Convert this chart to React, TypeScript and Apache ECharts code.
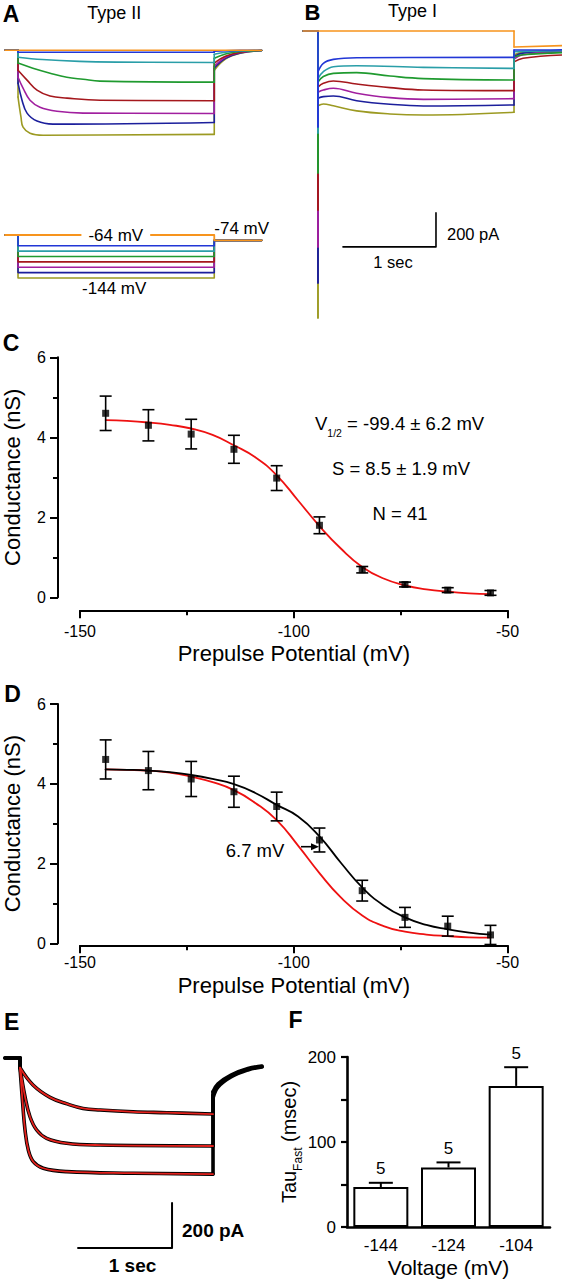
import React, { useEffect, useRef } from "react";
import * as echarts from "echarts";

const FONT = '"Liberation Sans", Arial, Helvetica, sans-serif';

// ---------------- Panel A (Type II): current traces, t (ms), I (pA) ----------------
const A_OLIVE = [[0, 0], [140, 0], [140, -276], [172, -394], [194, -453], [269, -488], [409, -500], [2250, -495], [2250, -118], [2370, -52], [2530, -18], [2760, -2]];
const A_NAVY = [[0, 0], [140, 0], [140, -194], [183, -294], [237, -370], [344, -417], [516, -435], [2250, -425], [2250, -106], [2370, -48], [2530, -16], [2760, -2]];
const A_MAGENTA = [[0, 0], [140, 0], [140, -159], [194, -223], [269, -294], [376, -335], [559, -359], [839, -370], [2250, -372], [2250, -94], [2370, -42], [2530, -14], [2760, -2]];
const A_RED = [[0, 0], [140, 0], [140, -118], [237, -176], [344, -235], [484, -270], [667, -282], [1022, -294], [2250, -297], [2250, -76], [2370, -35], [2530, -12], [2760, -2]];
const A_GREEN = [[0, 0], [140, 0], [140, -76], [300, -106], [485, -135], [665, -159], [840, -171], [1020, -182], [2250, -188], [2250, -47], [2370, -22], [2530, -8], [2760, -2]];
const A_CYAN = [[0, 0], [140, 0], [140, -41], [400, -55], [800, -66], [1200, -70], [2250, -72], [2250, -24], [2370, -12], [2530, -5], [2760, -1]];
const A_BLUE = [[0, 0], [140, 0], [140, -12], [2250, -12], [2250, -6], [2370, -3], [2530, -1], [2760, 0]];
const A_ORANGE = [[0, 0], [2760, 0]];

// Voltage protocol (mV)
const PROTO_HOLD = -64;
const PROTO_TAIL = -74;
const PROTO_LEVELS = [-144, -134, -124, -114, -104, -94, -84];
const PROTO_TIMES = [0, 140, 2250, 2760];

// ---------------- Panel B (Type I) ----------------
const B_OLIVE = [[0, 0], [161, 0], [161, -1688], [161, -440], [219, -429], [326, -440], [577, -470], [935, -488], [1294, -494], [2269, -478], [2269, -140], [2366, -125], [2785, -118]];
const B_NAVY = [[0, 0], [161, 0], [161, -1482], [161, -395], [219, -386], [326, -382], [577, -410], [935, -431], [1294, -441], [2269, -435], [2269, -150], [2366, -130], [2785, -118]];
const B_MAGENTA = [[0, 0], [161, 0], [161, -1270], [161, -360], [219, -347], [326, -337], [577, -366], [935, -392], [1294, -402], [2269, -398], [2269, -165], [2366, -140], [2785, -123]];
const B_RED = [[0, 0], [161, 0], [161, -1053], [161, -330], [219, -308], [326, -294], [577, -312], [935, -333], [1294, -347], [2269, -351], [2269, -182], [2366, -160], [2785, -141]];
const B_GREEN = [[0, 0], [161, 0], [161, -835], [161, -300], [219, -268], [326, -249], [577, -245], [935, -265], [1294, -280], [2269, -288], [2269, -153], [2366, -140], [2785, -127]];
const B_CYAN = [[0, 0], [161, 0], [161, -600], [161, -280], [219, -239], [326, -210], [577, -204], [1294, -214], [2269, -220], [2269, -122], [2366, -120], [2785, -116]];
const B_BLUE = [[0, 0], [161, 0], [161, -564], [161, -240], [219, -190], [326, -167], [577, -157], [2269, -155], [2269, -112], [2366, -112], [2785, -110]];
const B_ORANGE = [[0, 0], [2269, 0], [2269, -94], [2785, -86]];
const B_SCALEBAR = [[430, -1270], [1430, -1270], [1430, -1070]];

// ---------------- Panels C / D: conductance vs prepulse ----------------
const PREPULSE_MV = [-144, -134, -124, -114, -104, -94, -84, -74, -64, -54];
const C_COND = [4.6, 4.3, 4.08, 3.7, 2.98, 1.8, 0.69, 0.32, 0.18, 0.11];
const C_SEM = [0.43, 0.39, 0.37, 0.35, 0.31, 0.21, 0.08, 0.06, 0.06, 0.06];
const D_COND = [4.61, 4.33, 4.12, 3.8, 3.43, 2.59, 1.32, 0.65, 0.43, 0.21];
const D_SEM = [0.49, 0.48, 0.44, 0.39, 0.36, 0.3, 0.26, 0.25, 0.25, 0.24];
const FIT_MV = [-144, -139, -134, -129, -124, -119, -114, -109, -104, -99, -94, -89, -84, -79, -74, -69, -64, -59, -54];
const C_FIT = [4.43, 4.41, 4.37, 4.31, 4.22, 4.06, 3.8, 3.5, 3.05, 2.42, 1.78, 1.22, 0.76, 0.47, 0.3, 0.2, 0.14, 0.1, 0.08];
const D_FIT_CONTROL = [4.36, 4.35, 4.33, 4.28, 4.18, 4.04, 3.84, 3.52, 3.09, 2.45, 1.76, 1.15, 0.7, 0.43, 0.29, 0.22, 0.18, 0.15, 0.14];
const D_FIT_SHIFTED = [4.36, 4.35, 4.33, 4.29, 4.22, 4.12, 3.99, 3.77, 3.47, 3.18, 2.68, 2.02, 1.4, 0.95, 0.65, 0.46, 0.35, 0.27, 0.22];

// ---------------- Panel E: traces with fits ----------------
const E_PRE = [[0, 0], [160, 0]];
const E_DECAY_1 = [[160, -43], [298, -120], [479, -175], [660, -204], [830, -224], [1011, -231], [1362, -239], [1723, -243], [2213, -249]];
const E_DECAY_2 = [[160, -43], [213, -172], [266, -261], [337, -320], [443, -357], [656, -379], [1011, -387], [2213, -391]];
const E_DECAY_3 = [[160, -46], [188, -201], [213, -320], [248, -409], [301, -461], [407, -490], [656, -505], [1362, -512], [2213, -516]];
const E_RECOVERY_1 = [[2213, -150], [2266, -115], [2404, -76], [2585, -47], [2734, -36]];
const E_RECOVERY_2 = [[2213, -165], [2266, -122], [2404, -80], [2585, -50], [2734, -38]];
const E_RECOVERY_3 = [[2213, -178], [2266, -129], [2404, -84], [2585, -53], [2734, -40]];
const E_SCALEBAR = [[777, -844], [1777, -844], [1777, -644]];

// ---------------- Panel F: Tau fast ----------------
const F_VOLTAGE = ["-144", "-124", "-104"];
const F_TAU = [47, 70, 166];
const F_SEM = [5, 6, 22];
const F_N = [5, 5, 5];

const COLORS = {
  orange: "#f7941d",
  blue: "#2237d6",
  cyan: "#2a9ea8",
  green: "#1f9a2f",
  red: "#a5181d",
  magenta: "#a11f9f",
  navy: "#1c1f9c",
  olive: "#9c9a22",
};

function lineSeries(data: number[][], color: string, width: number, axis: number, smooth: number | boolean, z = 2) {
  return {
    type: "line",
    xAxisIndex: axis,
    yAxisIndex: axis,
    data,
    smooth,
    symbol: "none",
    showSymbol: false,
    clip: false,
    silent: true,
    z,
    lineStyle: { color, width, cap: "round", join: "round" },
    emphasis: { disabled: true },
  };
}

// split a trace into straight vertical steps and smooth runs
function traceSeries(pts: number[][], color: string, width: number, axis: number, z = 2) {
  const out: any[] = [];
  let run: number[][] = [pts[0]];
  for (let i = 1; i < pts.length; i++) {
    const p = pts[i];
    const q = pts[i - 1];
    if (p[0] === q[0]) {
      if (run.length > 1) out.push(lineSeries(run, color, width, axis, 0.4, z));
      out.push(lineSeries([q, p], color, width, axis, false, z));
      run = [p];
    } else {
      run.push(p);
    }
  }
  if (run.length > 1) out.push(lineSeries(run, color, width, axis, 0.4, z));
  return out;
}

function errRender(params: any, api: any) {
  const x = api.value(0);
  const y = api.value(1);
  const e = api.value(2);
  const t = api.coord([x, y + e]);
  const b = api.coord([x, y - e]);
  const st = { stroke: "#000", lineWidth: 1.6 };
  const cap = 6;
  return {
    type: "group",
    children: [
      { type: "line", shape: { x1: t[0], y1: t[1], x2: b[0], y2: b[1] }, style: st },
      { type: "line", shape: { x1: t[0] - cap, y1: t[1], x2: t[0] + cap, y2: t[1] }, style: st },
      { type: "line", shape: { x1: b[0] - cap, y1: b[1], x2: b[0] + cap, y2: b[1] }, style: st },
    ],
  };
}

function barErrRender(params: any, api: any) {
  const i = api.value(0);
  const v = api.value(1);
  const e = api.value(2);
  const n = api.value(3);
  const p0 = api.coord([i, v]);
  const p1 = api.coord([i, v + e]);
  const st = { stroke: "#000", lineWidth: 2 };
  return {
    type: "group",
    children: [
      { type: "line", shape: { x1: p0[0], y1: p0[1], x2: p1[0], y2: p1[1] }, style: st },
      { type: "line", shape: { x1: p1[0] - 12, y1: p1[1], x2: p1[0] + 12, y2: p1[1] }, style: st },
      {
        type: "text",
        x: p1[0],
        y: p1[1] - 14,
        style: { text: String(n), fontSize: 17, fontFamily: FONT, fill: "#000", align: "center", verticalAlign: "middle" },
      },
    ],
  };
}

const AXIS_LINE = { show: true, onZero: false, lineStyle: { color: "#000", width: 2 } };

function hiddenX(gi: number, max: number) {
  return { gridIndex: gi, type: "value", min: 0, max, show: false, splitLine: { show: false } };
}
function hiddenY(gi: number, min: number, max: number) {
  return { gridIndex: gi, type: "value", min, max, show: false, splitLine: { show: false } };
}

function condX(gi: number, offset: number, margin: number, gap: number) {
  return {
    gridIndex: gi,
    type: "value",
    min: -150,
    max: -50,
    interval: 50,
    offset,
    axisLine: AXIS_LINE,
    axisTick: { show: true, length: 8, lineStyle: { color: "#000", width: 2 } },
    minorTick: { show: true, splitNumber: 2, length: 5, lineStyle: { color: "#000", width: 2 } },
    splitLine: { show: false },
    minorSplitLine: { show: false },
    axisLabel: { fontSize: 16, color: "#000", margin, fontFamily: FONT, showMinLabel: true, showMaxLabel: true },
    name: "Prepulse Potential (mV)",
    nameLocation: "middle",
    nameGap: gap,
    nameTextStyle: { fontSize: 22, color: "#000", fontFamily: FONT },
  };
}
function condY(gi: number) {
  return {
    gridIndex: gi,
    type: "value",
    min: 0,
    max: 6,
    interval: 2,
    offset: 22,
    axisLine: AXIS_LINE,
    axisTick: { show: true, length: 8, lineStyle: { color: "#000", width: 2 } },
    minorTick: { show: true, splitNumber: 2, length: 5, lineStyle: { color: "#000", width: 2 } },
    splitLine: { show: false },
    minorSplitLine: { show: false },
    axisLabel: { fontSize: 16, color: "#000", margin: 12, fontFamily: FONT },
    name: "Conductance (nS)",
    nameLocation: "middle",
    nameRotate: 90,
    nameGap: 35,
    nameTextStyle: { fontSize: 22, color: "#000", fontFamily: FONT },
  };
}

function txt(text: string, x: number, y: number, size: number, align = "center", bold = false, extra: any = {}) {
  return {
    type: "text",
    x,
    y,
    z: 100,
    silent: true,
    style: {
      text,
      fontSize: size,
      fontFamily: FONT,
      fontWeight: bold ? "bold" : "normal",
      fill: "#000",
      align,
      verticalAlign: "middle",
      ...extra,
    },
  };
}

function buildOption() {
  const series: any[] = [];

  // Panel A traces
  const aTraces: [number[][], string][] = [
    [A_OLIVE, COLORS.olive], [A_NAVY, COLORS.navy], [A_MAGENTA, COLORS.magenta], [A_RED, COLORS.red],
    [A_GREEN, COLORS.green], [A_CYAN, COLORS.cyan], [A_BLUE, COLORS.blue], [A_ORANGE, COLORS.orange],
  ];
  aTraces.forEach(([pts, c]) => series.push(...traceSeries(pts, c, 1.6, 0)));

  // Panel A voltage protocol
  const protoColors = [COLORS.olive, COLORS.navy, COLORS.magenta, COLORS.red, COLORS.green, COLORS.cyan, COLORS.blue];
  PROTO_LEVELS.forEach((v, i) => {
    const d = [
      [PROTO_TIMES[0], PROTO_HOLD], [PROTO_TIMES[1], PROTO_HOLD], [PROTO_TIMES[1], v],
      [PROTO_TIMES[2], v], [PROTO_TIMES[2], PROTO_TAIL], [PROTO_TIMES[3], PROTO_TAIL],
    ];
    series.push(lineSeries(d, protoColors[i], 1.6, 1, false));
  });
  series.push(lineSeries([[PROTO_TIMES[0], PROTO_HOLD], [PROTO_TIMES[2], PROTO_HOLD], [PROTO_TIMES[2], PROTO_TAIL], [PROTO_TIMES[3], PROTO_TAIL]], COLORS.orange, 1.8, 1, false, 3));

  // Panel B traces
  const bTraces: [number[][], string][] = [
    [B_OLIVE, COLORS.olive], [B_NAVY, COLORS.navy], [B_MAGENTA, COLORS.magenta], [B_RED, COLORS.red],
    [B_GREEN, COLORS.green], [B_CYAN, COLORS.cyan], [B_BLUE, COLORS.blue], [B_ORANGE, COLORS.orange],
  ];
  bTraces.forEach(([pts, c]) => series.push(...traceSeries(pts, c, 1.6, 2)));
  series.push(lineSeries(B_SCALEBAR, "#000", 1.6, 2, false));

  // Panel C
  series.push(lineSeries(FIT_MV.map((v, i) => [v, C_FIT[i]]), "#ee1111", 1.8, 3, true));
  series.push({
    type: "custom", xAxisIndex: 3, yAxisIndex: 3, silent: true, z: 3,
    data: PREPULSE_MV.map((v, i) => [v, C_COND[i], C_SEM[i]]),
    encode: { x: 0, y: 1 }, renderItem: errRender,
  });
  series.push({
    type: "scatter", xAxisIndex: 3, yAxisIndex: 3, silent: true, z: 4, symbol: "rect", symbolSize: 7,
    itemStyle: { color: "#000" }, data: PREPULSE_MV.map((v, i) => [v, C_COND[i]]),
  });

  // Panel D
  series.push(lineSeries(FIT_MV.map((v, i) => [v, D_FIT_CONTROL[i]]), "#ee1111", 1.8, 4, true));
  series.push(lineSeries(FIT_MV.map((v, i) => [v, D_FIT_SHIFTED[i]]), "#000", 1.8, 4, true));
  series.push({
    type: "custom", xAxisIndex: 4, yAxisIndex: 4, silent: true, z: 3,
    data: PREPULSE_MV.map((v, i) => [v, D_COND[i], D_SEM[i]]),
    encode: { x: 0, y: 1 }, renderItem: errRender,
  });
  series.push({
    type: "scatter", xAxisIndex: 4, yAxisIndex: 4, silent: true, z: 4, symbol: "rect", symbolSize: 7,
    itemStyle: { color: "#000" }, data: PREPULSE_MV.map((v, i) => [v, D_COND[i]]),
  });

  // Panel E
  const eBlack = [
    [...E_PRE, ...E_DECAY_1, ...E_RECOVERY_1],
    [...E_PRE, ...E_DECAY_2, ...E_RECOVERY_2],
    [...E_PRE, ...E_DECAY_3, ...E_RECOVERY_3],
  ];
  eBlack.forEach((pts) => series.push(...traceSeries(pts, "#000", 3.6, 5)));
  [E_DECAY_1, E_DECAY_2, E_DECAY_3].forEach((pts) => series.push(lineSeries(pts, "#e3211c", 1.8, 5, 0.4, 4)));
  series.push(lineSeries(E_SCALEBAR, "#000", 2, 5, false));

  // Panel F
  series.push({
    type: "bar", xAxisIndex: 6, yAxisIndex: 6, data: F_TAU, barWidth: 55, silent: true,
    itemStyle: { color: "#fff", borderColor: "#000", borderWidth: 2 },
  });
  series.push({
    type: "custom", xAxisIndex: 6, yAxisIndex: 6, silent: true, z: 5,
    data: F_TAU.map((t, i) => [i, t, F_SEM[i], F_N[i]]),
    encode: { x: 0, y: 1 }, renderItem: barErrRender,
  });

  const grids = [
    { left: 5, top: 40, width: 256.7, height: 102 },
    { left: 5, top: 224.8, width: 256.7, height: 59.1 },
    { left: 303, top: 24.2, width: 259, height: 295.8 },
    { left: 80, top: 357.3, width: 427.6, height: 240 },
    { left: 80, top: 704, width: 427.6, height: 239.3 },
    { left: 5, top: 1049, width: 258.5, height: 211.5 },
    { left: 347, top: 1057, width: 203, height: 170 },
  ].map((g) => ({ ...g, containLabel: false, outerBoundsMode: "none", show: false }));

  const xAxis = [
    hiddenX(0, 2760),
    hiddenX(1, 2760),
    hiddenX(2, 2785),
    condX(3, 13, 13, 32),
    condX(4, 2, 9.5, 29),
    hiddenX(5, 2750),
    {
      gridIndex: 6,
      type: "category",
      data: F_VOLTAGE,
      axisLine: { show: true, onZero: false, lineStyle: { color: "#000", width: 2.6 } },
      axisTick: { show: false },
      splitLine: { show: false },
      axisLabel: { fontSize: 17, color: "#000", margin: 10, fontFamily: FONT },
      name: "Voltage (mV)",
      nameLocation: "middle",
      nameGap: 30,
      nameTextStyle: { fontSize: 21, color: "#000", fontFamily: FONT },
    },
  ];
  const yAxis = [
    hiddenY(0, -540, 60),
    hiddenY(1, -155, -45),
    hiddenY(2, -1700, 40),
    condY(3),
    condY(4),
    hiddenY(5, -900, 40),
    {
      gridIndex: 6,
      type: "value",
      min: 0,
      max: 200,
      interval: 50,
      axisLine: { show: true, onZero: false, lineStyle: { color: "#000", width: 2.6 } },
      axisTick: { show: true, length: 6, lineStyle: { color: "#000", width: 2.2 } },
      splitLine: { show: false },
      axisLabel: {
        fontSize: 17, color: "#000", margin: 11, fontFamily: FONT,
        formatter: (v: number) => (v % 100 === 0 ? String(v) : ""),
      },
      name: "{a|Tau}{b|Fast}{a| (msec)}",
      nameLocation: "middle",
      nameRotate: 90,
      nameGap: 40,
      nameTextStyle: {
        color: "#000",
        fontFamily: FONT,
        rich: {
          a: { fontSize: 20, lineHeight: 30, fontFamily: FONT, color: "#000" },
          b: { fontSize: 12, verticalAlign: "bottom", fontFamily: FONT, color: "#000" },
        },
      },
    },
  ];

  const graphic = [
    txt("A", 11, 13.5, 23, "center", true),
    txt("Type II", 114.2, 12.5, 18),
    txt("-64 mV", 115.8, 235, 17, "center", false, { backgroundColor: "#fff", padding: [0, 7] }),
    txt("-74 mV", 241.7, 228.3, 17),
    txt("-144 mV", 114.2, 288.3, 17),
    txt("B", 312.5, 12, 22, "center", true),
    txt("Type I", 412.5, 11, 18),
    txt("200 pA", 447, 234, 16.5, "left"),
    txt("1 sec", 393, 262, 16.5),
    txt("C", 11, 343, 23, "center", true),
    {
      type: "text", x: 315, y: 423.5, z: 100, silent: true,
      style: {
        text: "{a|V}{b|1/2}{a| = -99.4 ± 6.2 mV}",
        align: "left", verticalAlign: "middle",
        rich: {
          a: { fontSize: 18.5, lineHeight: 30, fontFamily: FONT, fill: "#000" },
          b: { fontSize: 10.5, verticalAlign: "bottom", fontFamily: FONT, fill: "#000" },
        },
      },
    },
    txt("S = 8.5 ± 1.9 mV", 401, 468.3, 18.5),
    txt("N = 41", 400, 513.5, 18.5),
    txt("D", 12.6, 693.5, 23, "center", true),
    txt("6.7 mV", 255, 850, 18.5),
    { type: "line", z: 100, silent: true, shape: { x1: 301, y1: 846.7, x2: 313, y2: 846.7 }, style: { stroke: "#000", lineWidth: 1.6 } },
    { type: "polygon", z: 100, silent: true, shape: { points: [[319, 846.7], [311, 843.2], [311, 850.2]] }, style: { fill: "#000" } },
    txt("E", 11.7, 1021.5, 23, "center", true),
    txt("F", 295.5, 1020, 23, "center", true),
    txt("200 pA", 182, 1230, 19, "left", true),
    txt("1 sec", 132.5, 1265, 19, "center", true),
  ];

  return {
    animation: false,
    backgroundColor: "#fff",
    textStyle: { fontFamily: FONT },
    tooltip: { show: false },
    grid: grids,
    xAxis,
    yAxis,
    series,
    graphic: { elements: graphic },
  };
}

export default function App() {
  const ref = useRef<HTMLDivElement>(null);
  useEffect(() => {
    document.body.style.margin = "0";
    const chart = echarts.init(ref.current as HTMLDivElement, null, { renderer: "svg" });
    chart.setOption(buildOption() as any);
    return () => chart.dispose();
  }, []);
  return <div ref={ref} style={{ width: 562, height: 1280, background: "#fff" }} />;
}
